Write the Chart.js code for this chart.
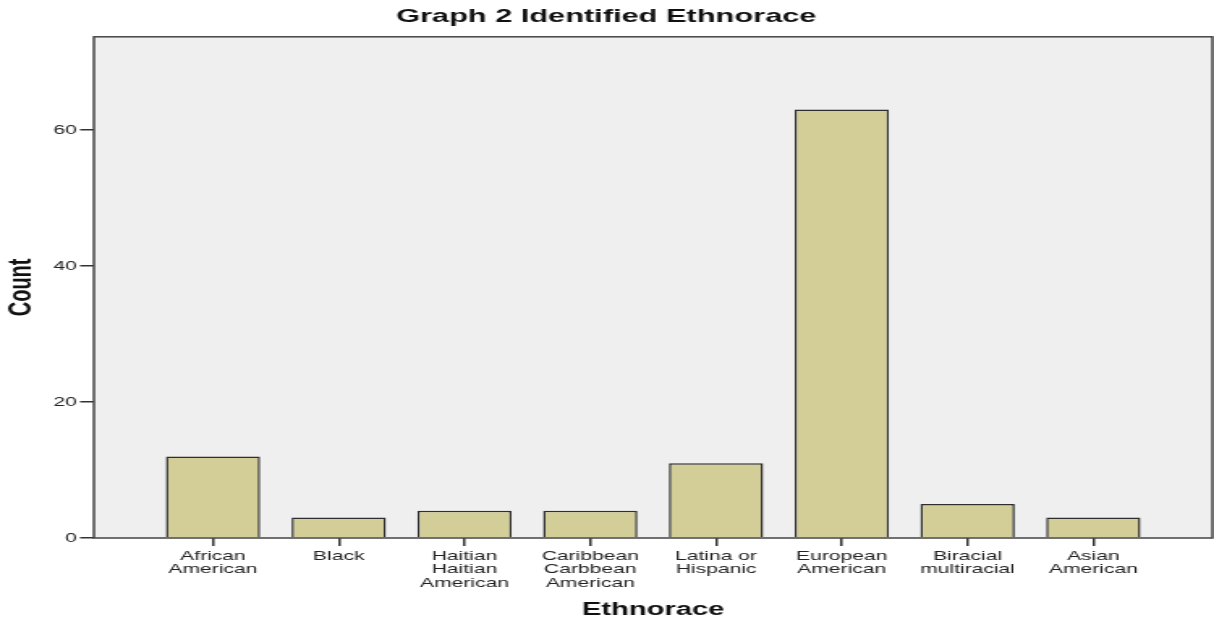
<!DOCTYPE html>
<html>
<head>
<meta charset="utf-8">
<script src="https://cdn.jsdelivr.net/npm/chart.js@4"></script>
<style>
  html, body { margin: 0; padding: 0; background: #ffffff; overflow: hidden; }
  /* исходная картинка растянута по горизонтали */
  #wrap { width: 750px; height: 622px; transform: scaleX(1.61867); transform-origin: 0 0; }
</style>
</head>
<body>
<div id="wrap"><canvas id="chart"></canvas></div>
<script>
// Данные графика
var categories = [
    ['African', 'American'],
    ['Black'],
    ['Haitian', 'Haitian', 'American'],
    ['Caribbean', 'Carbbean', 'American'],
    ['Latina or', 'Hispanic'],
    ['European', 'American'],
    ['Biracial', 'multiracial'],
    ['Asian', 'American']
];
var counts = [12, 3, 4, 4, 11, 63, 5, 3];
var yTicks = [0, 20, 40, 60];

var points = counts.map(function (v, i) { return { x: i + 1, y: v }; });

// Серый фон и рамка области построения
var plotBox = {
    id: 'plotBox',
    beforeDraw: function (chart) {
        var a = chart.chartArea, ctx = chart.ctx;
        ctx.save();
        ctx.fillStyle = '#efefef';
        ctx.fillRect(a.left, a.top, a.right - a.left, a.bottom - a.top);
        ctx.restore();
    },
    afterDraw: function (chart) {
        var a = chart.chartArea, ctx = chart.ctx;
        ctx.save();
        ctx.strokeStyle = '#444444';
        ctx.lineWidth = 1.5;
        ctx.strokeRect(a.left, a.top, a.right - a.left, a.bottom - a.top);
        ctx.restore();
    }
};

var ctx = document.getElementById('chart').getContext('2d');
var chart = new Chart(ctx, {
    type: 'bar',
    data: {
        datasets: [{
            data: points,
            backgroundColor: '#d3ce97',
            borderColor: '#2e2e2e',
            borderWidth: 1.5,
            barPercentage: 0.75,
            categoryPercentage: 1
        }]
    },
    plugins: [plotBox],
    options: {
        responsive: true,
        maintainAspectRatio: false,
        animation: false,
        layout: { padding: { left: 0, right: 1, top: 0, bottom: 0 } },
        plugins: {
            legend: { display: false },
            tooltip: { enabled: false },
            title: {
                display: true,
                text: 'Graph 2 Identified Ethnorace',
                color: '#111111',
                font: { family: 'Liberation Sans', size: 19, weight: 'bold' },
                padding: { top: 5, bottom: 9 }
            }
        },
        scales: {
            x: {
                type: 'linear',
                offset: false,
                min: 0.053,
                max: 8.947,
                afterBuildTicks: function (scale) {
                    scale.ticks = categories.map(function (c, i) { return { value: i + 1 }; });
                },
                afterFit: function (scale) { scale.height = 84; },
                grid: { drawOnChartArea: false, offset: false, tickLength: 8, color: '#333333', lineWidth: 1.5 },
                border: { display: false },
                ticks: {
                    autoSkip: false,
                    maxRotation: 0,
                    padding: 3.5,
                    color: '#222222',
                    font: { family: 'Liberation Sans', size: 13, lineHeight: 1.04 },
                    callback: function (value) { return categories[value - 1]; }
                },
                title: {
                    display: true,
                    text: 'Ethnorace',
                    color: '#111111',
                    font: { family: 'Liberation Sans', size: 18, weight: 'bold' },
                    padding: { top: 0, bottom: 1.5 }
                }
            },
            y: {
                min: 0,
                max: 73.7,
                afterBuildTicks: function (scale) {
                    scale.ticks = yTicks.map(function (v) { return { value: v }; });
                },
                afterFit: function (scale) { scale.width = 58; },
                grid: { drawOnChartArea: false, tickLength: 8.6, color: '#333333', lineWidth: 1.5 },
                border: { display: false },
                ticks: {
                    padding: 2,
                    color: '#222222',
                    font: { family: 'Liberation Sans', size: 13 }
                },
                title: {
                    display: true,
                    text: 'Count',
                    color: '#111111',
                    font: { family: 'Liberation Sans', size: 20, weight: 'bold' },
                    padding: { top: 1, bottom: 0 }
                }
            }
        }
    }
});
</script>
</body>
</html>
